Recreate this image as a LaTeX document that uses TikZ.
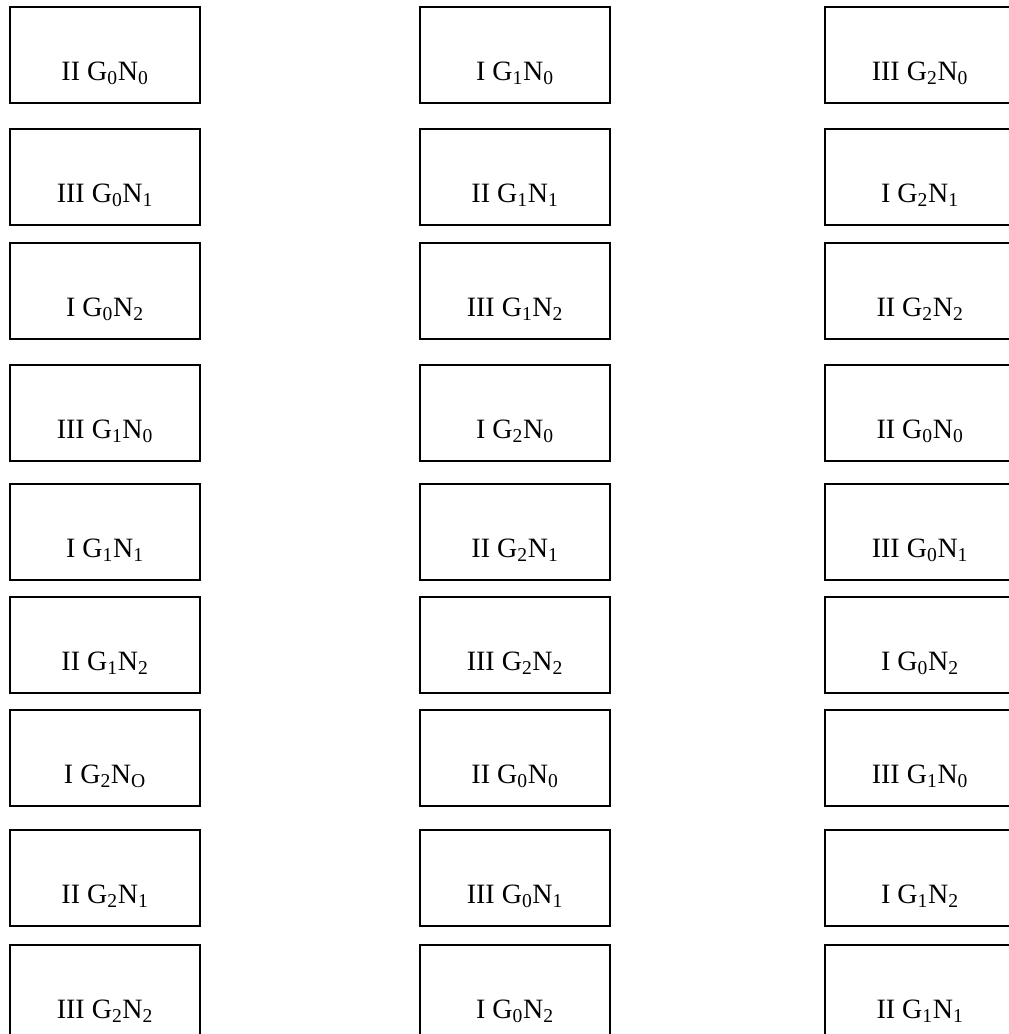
\documentclass[tikz,border=0pt]{standalone}
\usepackage{fontspec}
\setmainfont{Liberation Serif}
\usepackage{tikz}

\newcommand{\gn}[2]{G\textsubscript{#1}N\textsubscript{#2}}
\tikzset{
  cell/.style={draw,line width=1.3pt,minimum width=142.5pt,minimum height=72pt,inner sep=0pt},
  tag/.style={anchor=base,inner sep=0pt,font=\fontsize{21}{25}\selectfont}
}

\begin{document}
\begin{tikzpicture}[x=0.75pt,y=-0.75pt]
  \useasboundingbox (0,0) rectangle (1008,1034);
  % three columns, nine rows
  \foreach \r/\yt/\ta/\tb/\tc in {
      1/7/{II \gn00}/{I \gn10}/{III \gn20},
      2/129/{III \gn01}/{II \gn11}/{I \gn21},
      3/243/{I \gn02}/{III \gn12}/{II \gn22},
      4/365/{III \gn10}/{I \gn20}/{II \gn00},
      5/484/{I \gn11}/{II \gn21}/{III \gn01},
      6/597/{II \gn12}/{III \gn22}/{I \gn02},
      7/710/{I \gn2O}/{II \gn00}/{III \gn10},
      8/830/{II \gn21}/{III \gn01}/{I \gn12},
      9/945/{III \gn22}/{I \gn02}/{II \gn11}} {
    \node[cell] (a\r) at (105,\yt+48) {};
    \node[cell] (b\r) at (515,\yt+48) {};
    \node[cell] (c\r) at (920,\yt+48) {};
    \node[tag] (ta\r) at ([yshift=17.5pt]a\r.south) {\ta};
    \node[tag] (tb\r) at ([yshift=17.5pt]b\r.south) {\tb};
    \node[tag] (tc\r) at ([yshift=17.5pt]c\r.south) {\tc};
  }
\end{tikzpicture}
\end{document}
